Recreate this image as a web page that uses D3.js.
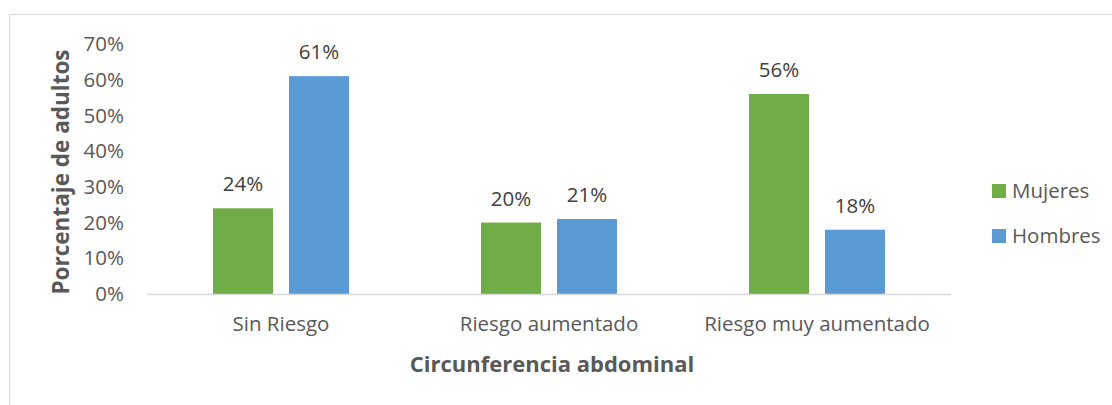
<!DOCTYPE html>
<html>
<head>
<meta charset="utf-8">
<script src="https://cdn.jsdelivr.net/npm/d3@7"></script>
<style>
	body { margin: 0; background: #fff; }
	svg text { font-family: 'Open Sans', Lato, sans-serif; }
</style>
</head>
<body>
<div id="chart"></div>
<script>
// data
const categories = ['Sin Riesgo', 'Riesgo aumentado', 'Riesgo muy aumentado'];
const seriesNames = ['Mujeres', 'Hombres'];
const mujeres = [24, 20, 56];
const hombres = [61, 21, 18];
const yTicks = [0, 10, 20, 30, 40, 50, 60, 70];

const colours = ['#70AD47', '#5B9BD5'];
const width = 1112, height = 405;
const plot = {left: 147, right: 951, top: 44, bottom: 294};
const labelSize = '20.5px';

const svg = d3.select('#chart').append('svg')
	.attr('width', width)
	.attr('height', height);

// chart frame (runs off the right and bottom edges)
svg.append('rect')
	.attr('x', 9.5).attr('y', 14.5)
	.attr('width', 1120).attr('height', 420)
	.attr('fill', 'none')
	.attr('stroke', '#d9d9d9');

// scales
const x = d3.scaleBand()
	.domain(categories)
	.range([plot.left, plot.right]);
const xInner = d3.scaleBand()
	.domain(seriesNames)
	.range([0, 136])
	.paddingInner(16 / 76);
const y = d3.scaleLinear()
	.domain([0, 70])
	.range([plot.bottom, plot.top]);

const rows = categories.map((c, i) => ({cat: c, values: [mujeres[i], hombres[i]]}));

// y tick labels
svg.append('g')
	.selectAll('text')
	.data(yTicks)
	.enter().append('text')
		.attr('x', 124)
		.attr('y', d => y(d))
		.attr('dy', '0.35em')
		.attr('text-anchor', 'end')
		.attr('fill', '#595959')
		.style('font-size', labelSize)
		.text(d => d + '%');

// bars
const groups = svg.append('g')
	.selectAll('g')
	.data(rows)
	.enter().append('g')
		.attr('transform', d => `translate(${x(d.cat) + (x.bandwidth() - 136) / 2},0)`);

groups.selectAll('rect')
	.data(d => d.values.map((v, j) => ({name: seriesNames[j], v: v, j: j})))
	.enter().append('rect')
		.attr('x', d => xInner(d.name))
		.attr('y', d => y(d.v))
		.attr('width', xInner.bandwidth())
		.attr('height', d => y(0) - y(d.v))
		.attr('fill', d => colours[d.j]);

groups.selectAll('text')
	.data(d => d.values.map((v, j) => ({name: seriesNames[j], v: v})))
	.enter().append('text')
		.attr('x', d => xInner(d.name) + xInner.bandwidth() / 2)
		.attr('y', d => y(d.v) - 17)
		.attr('text-anchor', 'middle')
		.attr('fill', '#404040')
		.style('font-size', labelSize)
		.text(d => d.v + '%');

// x axis line
svg.append('line')
	.attr('x1', plot.left).attr('x2', plot.right)
	.attr('y1', y(0) + 0.5).attr('y2', y(0) + 0.5)
	.attr('stroke', '#d9d9d9')
	.attr('stroke-width', 1.5);

// category labels
svg.append('g')
	.selectAll('text')
	.data(categories)
	.enter().append('text')
		.attr('x', d => x(d) + x.bandwidth() / 2)
		.attr('y', 331)
		.attr('text-anchor', 'middle')
		.attr('fill', '#595959')
		.style('font-size', labelSize)
		.text(d => d);

// axis titles
svg.append('text')
	.attr('x', (plot.left + plot.right) / 2 + 3)
	.attr('y', 372)
	.attr('text-anchor', 'middle')
	.attr('fill', '#595959')
	.style('font-size', '22px')
	.style('font-weight', 'bold')
	.text('Circunferencia abdominal');

svg.append('text')
	.attr('transform', `translate(69,${(plot.top + plot.bottom) / 2 + 3}) rotate(-90)`)
	.attr('text-anchor', 'middle')
	.attr('fill', '#595959')
	.style('font-size', '22.5px')
	.style('font-weight', 'bold')
	.text('Porcentaje de adultos');

// legend
const legend = svg.append('g')
	.selectAll('g')
	.data(seriesNames)
	.enter().append('g')
		.attr('transform', (d, i) => `translate(992,${184 + i * 45})`);

legend.append('rect')
	.attr('width', 14).attr('height', 14)
	.attr('fill', (d, i) => colours[i]);

legend.append('text')
	.attr('x', 20)
	.attr('y', 7)
	.attr('dy', '0.35em')
	.attr('fill', '#595959')
	.style('font-size', labelSize)
	.text(d => d);
</script>
</body>
</html>
